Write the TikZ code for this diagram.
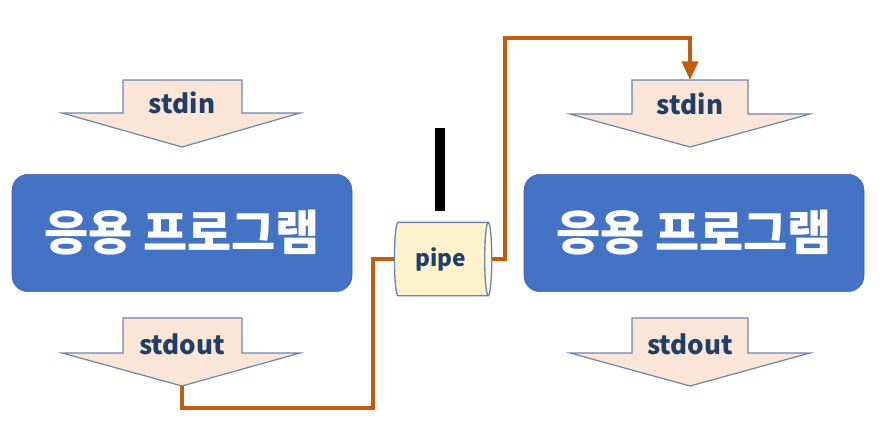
\documentclass[tikz,border=0pt]{standalone}
\usepackage{fontspec}
\setmainfont{Noto Sans CJK KR}
\usepackage{xcolor}
\usetikzlibrary{arrows.meta,positioning,shapes.geometric}
\definecolor{appblue}{HTML}{4472C4}
\definecolor{appedge}{HTML}{3A64AE}
\definecolor{peach}{HTML}{FBE5D6}
\definecolor{slate}{HTML}{6A86B0}
\definecolor{inktext}{HTML}{1F3F66}
\definecolor{rust}{HTML}{C55A11}
\definecolor{cream}{HTML}{FFF2CC}

\begin{document}
\begin{tikzpicture}[
  x=0.75pt, y=-0.75pt,
  app/.style={draw=appedge, fill=appblue, rounded corners=12pt, minimum width=255pt, minimum height=88pt, text=white, font=\fontsize{36}{40}\selectfont\bfseries},
  stream/.style={draw=slate, fill=peach, line width=0.9pt, line join=miter},
  label/.style={text=inktext, font=\fontsize{19.5}{22}\selectfont\bfseries},
  tube/.style={cylinder, draw=slate, line width=1pt, cylinder uses custom fill, cylinder body fill=cream, cylinder end fill=cream!40, shape aspect=0.3, minimum width=55pt, minimum height=73pt, inner sep=0pt, text=inktext, font=\fontsize{17}{20}\selectfont\bfseries},
  link/.style={draw=rust, line width=3pt}
]
\useasboundingbox (0,0) rectangle (888,432);

% left program
\draw[stream] (123,80) -- (242,80) -- (242,113) -- (300,113) -- (182,147) -- (62,113) -- (123,113) -- cycle;
\node[label] (inL) at (182,103) {stdin};
\node[app] (appL) at (182,233) {응용 프로그램};
\draw[stream] (123,318) -- (242,318) -- (242,353) -- (300,353) -- (182,386) -- (62,353) -- (123,353) -- cycle;
\node[label] (outL) at (182,344) {stdout};
\coordinate (tipL) at (182,386);

% pipe
\node[tube] (pipe) at (441,259) {pipe};
\draw[line width=7.5pt] (440,128) -- (440,211);

% right program
\draw[stream] (632,80) -- (748,80) -- (748,114) -- (810,114) -- (690,147) -- (570,114) -- (632,114) -- cycle;
\node[label] (inR) at (690,104) {stdin};
\node[app] (appR) at (694,233) {응용 프로그램};
\draw[stream] (632,318) -- (748,318) -- (748,353) -- (810,353) -- (690,386) -- (570,353) -- (632,353) -- cycle;
\node[label] (outR) at (690,344) {stdout};
\coordinate (topR) at (690,80);

\draw[link] (tipL) |- (373,408) |- (pipe.west);
\draw[link, -{Triangle[length=14pt, width=12pt]}] (pipe.east) -| (505,38) -| (topR);
\end{tikzpicture}
\end{document}
